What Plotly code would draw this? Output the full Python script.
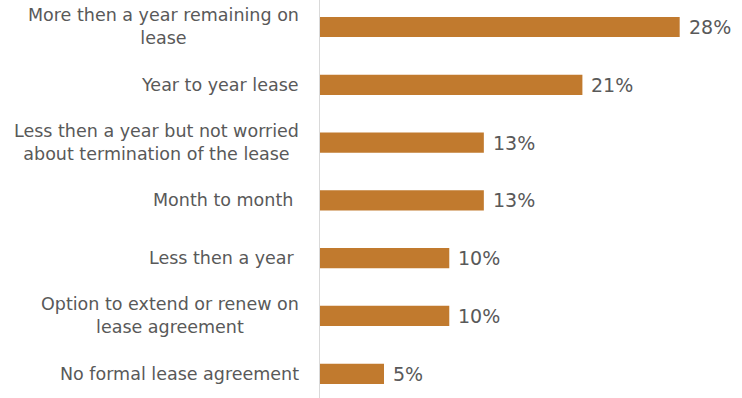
import plotly.graph_objects as go

categories = [
    "More then a year remaining on<br>lease",
    "Year to year lease",
    "Less then a year but not worried<br>about termination of the lease",
    "Month to month\u00a0",
    "Less then a year\u00a0",
    "Option to extend or renew on<br>lease agreement",
    "No formal lease agreement",
]
values = [28.1, 20.5, 12.8, 12.8, 10.1, 10.1, 5.0]
value_labels = ["28%", "21%", "13%", "13%", "10%", "10%", "5%"]

BAR = "#C17A2E"
TXT = "#595959"
FONT = "DejaVu Sans"

fig = go.Figure()
fig.add_trace(go.Bar(
    x=values,
    y=list(range(len(categories))),
    orientation="h",
    marker=dict(color=BAR, line=dict(width=0)),
    width=0.35,
    hoverinfo="skip",
))

for i, c in enumerate(categories):
    fig.add_annotation(
        x=0, xref="paper", y=i, yref="y",
        text=c, showarrow=False,
        xanchor="right", yanchor="middle", align="center",
        xshift=-19,
        font=dict(family=FONT, size=17.5, color=TXT),
    )

for i, (v, t) in enumerate(zip(values, value_labels)):
    fig.add_annotation(
        x=v, xref="x", y=i, yref="y",
        text=t, showarrow=False,
        xanchor="left", yanchor="middle",
        xshift=7,
        font=dict(family=FONT, size=19, color=TXT),
    )

fig.update_layout(
    width=742, height=398,
    margin=dict(l=320, r=38, t=0, b=0),
    paper_bgcolor="white", plot_bgcolor="white",
    showlegend=False,
    xaxis=dict(range=[0, 30], showticklabels=False, showgrid=False,
               zeroline=False, showline=False, ticks=""),
    yaxis=dict(range=[6.419, -0.467], showticklabels=False, showgrid=False,
               zeroline=False, showline=True, linecolor="#D9D9D9",
               linewidth=1, ticks=""),
)

fig.write_html("out.html")
